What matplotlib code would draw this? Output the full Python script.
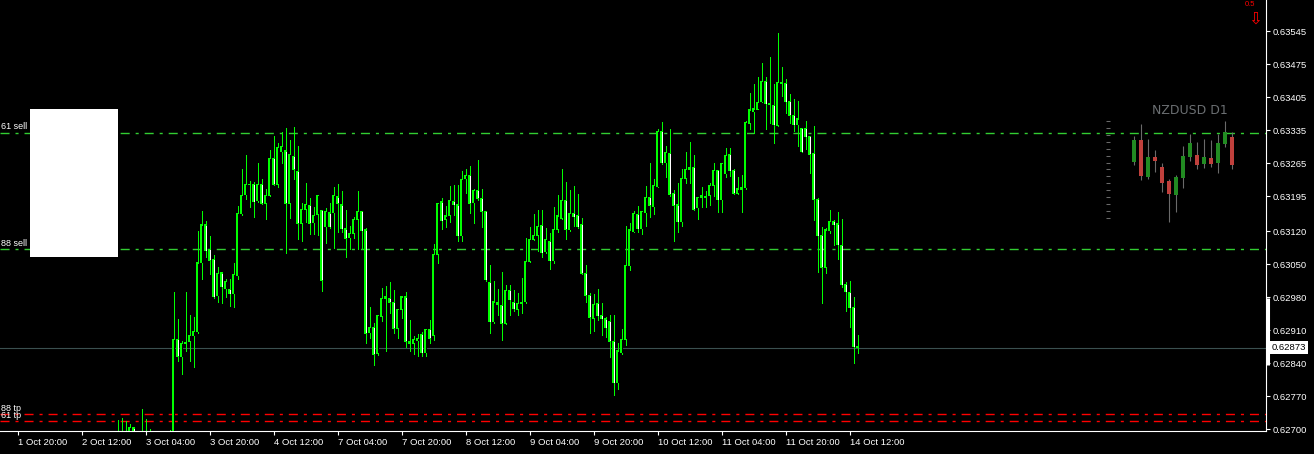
import matplotlib
matplotlib.use("Agg")
import matplotlib.pyplot as plt
import numpy as np
from matplotlib.patches import Rectangle

# NZDUSD H1 bars, prices in points (1e-5). first bar = 25 hours after 1 Oct 20:00
first_bar = 25
opens = [62670, 62680, 62672, 62684, 62703, 62688, 62676, 62670, 62662, 62668, 62660, 62655, 62662, 62668, 62675,
         62891, 62854, 62882, 62886, 62898, 62907, 63053, 63134, 63082, 63061, 62983, 63032, 62998, 62997, 62987,
         63026, 63157, 63198, 63220, 63220, 63185, 63220, 63180, 63197, 63275, 63220, 63289, 63291, 63180, 63280,
         63248, 63137, 63167, 63175, 63138, 63156, 63165, 63130, 63160, 63160, 63194, 63177, 63126, 63106, 63116,
         63146, 63163, 63123, 62905, 62916, 62861, 62940, 62977, 62978, 62969, 62914, 62954, 62981, 62886, 62882,
         62888, 62901, 62862, 62912, 62899, 63071, 63183, 63146, 63154, 63184, 63177, 63111, 63232, 63239, 63181,
         63207, 63190, 63163, 63012, 62928, 62969, 62963, 62925, 62995, 62969, 62954, 62966, 62970, 63056, 63103,
         63112, 63133, 63077, 63099, 63058, 63124, 63148, 63186, 63123, 63158, 63154, 63135, 63031, 62984, 62935,
         62967, 62942, 62934, 62929, 62886, 62798, 62862, 62891, 63047, 63119, 63156, 63126, 63160, 63192, 63172,
         63215, 63333, 63266, 63286, 63201, 63177, 63140, 63233, 63252, 63256, 63170, 63192, 63192, 63197, 63218,
         63250, 63187, 63242, 63284, 63250, 63201, 63209, 63213, 63350, 63374, 63380, 63395, 63439, 63392, 63388,
         63346, 63437, 63435, 63397, 63367, 63347, 63339, 63339, 63322, 63286, 63188, 63112, 63044, 63121, 63141,
         63136, 63090, 63008, 62991, 62959, 62876]
highs = [62719, 62723, 62717, 62711, 62705, 62693, 62743, 62722, 62699, 62685, 62680, 62675, 62685, 62698, 62991,
         62934, 62887, 62991, 62942, 62938, 63121, 63163, 63142, 63110, 63070, 63044, 63034, 63019, 63019, 63053,
         63174, 63252, 63282, 63227, 63225, 63265, 63231, 63210, 63293, 63323, 63307, 63332, 63340, 63314, 63342,
         63301, 63180, 63223, 63191, 63172, 63198, 63166, 63169, 63180, 63214, 63220, 63206, 63165, 63131, 63151,
         63206, 63164, 63128, 62960, 62925, 62943, 62999, 63004, 63012, 62995, 62956, 62983, 62991, 62932, 62898,
         62902, 62907, 62913, 62932, 63093, 63181, 63191, 63174, 63216, 63218, 63218, 63248, 63252, 63259, 63211,
         63272, 63211, 63164, 63048, 63014, 62997, 63034, 63006, 63006, 62995, 62988, 63021, 63105, 63129, 63157,
         63165, 63165, 63127, 63116, 63172, 63197, 63252, 63225, 63208, 63216, 63199, 63148, 63048, 62988, 62987,
         62997, 62967, 62937, 62942, 62942, 62882, 62912, 63131, 63137, 63163, 63174, 63164, 63216, 63265, 63231,
         63337, 63352, 63301, 63337, 63208, 63222, 63252, 63289, 63310, 63282, 63193, 63214, 63206, 63222, 63265,
         63251, 63266, 63298, 63298, 63253, 63236, 63240, 63355, 63415, 63433, 63447, 63478, 63447, 63491, 63433,
         63541, 63470, 63443, 63412, 63401, 63397, 63340, 63355, 63323, 63344, 63190, 63129, 63127, 63165, 63144,
         63162, 63146, 63013, 63014, 62981, 62900]
lows = [62655, 62660, 62662, 62675, 62678, 62665, 62655, 62650, 62648, 62645, 62640, 62645, 62650, 62655, 62660,
        62845, 62817, 62866, 62845, 62832, 62905, 63019, 63066, 63029, 62979, 62970, 62968, 62980, 62962, 62960,
        63019, 63155, 63189, 63172, 63151, 63183, 63178, 63147, 63195, 63218, 63214, 63266, 63073, 63149, 63231,
        63104, 63100, 63140, 63115, 63115, 63112, 62994, 63096, 63128, 63084, 63119, 63119, 63066, 63082, 63105,
        63082, 63082, 62882, 62893, 62835, 62857, 62930, 62866, 62946, 62903, 62894, 62935, 62875, 62866, 62859,
        62855, 62855, 62855, 62882, 62889, 63053, 63126, 63129, 63140, 63155, 63100, 63100, 63202, 63160, 63138,
        63187, 63130, 63015, 62905, 62926, 62942, 62889, 62924, 62942, 62951, 62943, 62946, 62968, 63054, 63102,
        63079, 63066, 63075, 63041, 63052, 63119, 63146, 63104, 63121, 63131, 63128, 63029, 62970, 62903, 62909,
        62932, 62899, 62895, 62854, 62772, 62786, 62860, 62878, 63038, 63118, 63119, 63114, 63132, 63150, 63157,
        63214, 63263, 63236, 63196, 63100, 63119, 63132, 63222, 63222, 63165, 63147, 63172, 63172, 63175, 63196,
        63162, 63162, 63236, 63238, 63199, 63200, 63162, 63211, 63337, 63328, 63379, 63394, 63338, 63350, 63308,
        63344, 63408, 63371, 63351, 63334, 63302, 63288, 63295, 63245, 63144, 63034, 62968, 63031, 63116, 63091,
        63062, 63002, 62951, 62917, 62840, 62861]
closes = [62680, 62672, 62684, 62704, 62688, 62676, 62670, 62662, 62668, 62660, 62655, 62662, 62668, 62675, 62891,
          62855, 62882, 62883, 62899, 62908, 63053, 63134, 63079, 63059, 62981, 63031, 63002, 63014, 62987, 63029,
          63158, 63197, 63220, 63219, 63183, 63220, 63180, 63197, 63275, 63220, 63299, 63301, 63180, 63284, 63252,
          63137, 63167, 63178, 63137, 63154, 63197, 63016, 63163, 63130, 63197, 63180, 63126, 63105, 63116, 63146,
          63163, 63121, 62903, 62916, 62859, 62942, 62978, 62981, 62969, 62914, 62954, 62981, 62886, 62882, 62891,
          62893, 62862, 62912, 62893, 63071, 63180, 63143, 63153, 63186, 63177, 63111, 63231, 63239, 63180, 63207,
          63190, 63163, 63017, 62928, 62970, 62965, 62925, 62995, 62975, 62956, 62967, 62969, 63056, 63103, 63112,
          63131, 63075, 63103, 63058, 63124, 63153, 63186, 63124, 63158, 63151, 63130, 63031, 62984, 62937, 62965,
          62941, 62934, 62915, 62886, 62798, 62866, 62891, 63048, 63123, 63158, 63126, 63163, 63192, 63175, 63218,
          63333, 63266, 63288, 63199, 63176, 63140, 63233, 63252, 63256, 63167, 63192, 63197, 63195, 63218, 63250,
          63187, 63265, 63282, 63249, 63201, 63211, 63213, 63352, 63378, 63381, 63394, 63439, 63391, 63389, 63347,
          63437, 63435, 63395, 63367, 63347, 63359, 63289, 63321, 63284, 63188, 63111, 63044, 63123, 63141, 63134,
          63092, 63007, 62992, 62958, 62875, 62873]

time_labels = ["1 Oct 20:00", "2 Oct 12:00", "3 Oct 04:00", "3 Oct 20:00", "4 Oct 12:00", "7 Oct 04:00",
               "7 Oct 20:00", "8 Oct 12:00", "9 Oct 04:00", "9 Oct 20:00", "10 Oct 12:00", "11 Oct 04:00",
               "11 Oct 20:00", "14 Oct 12:00"]
price_ticks = [0.63545, 0.63475, 0.63405, 0.63335, 0.63265, 0.63195, 0.63120,
               0.63050, 0.62980, 0.62910, 0.62840, 0.62770, 0.62700]

level_names = ["61 sell", "88 sell", "88 tp", "61 tp"]
level_prices = [0.63330, 0.63082, 0.62731, 0.62717]
current_price = 0.62873
range_marker = [0.62978, 0.62836]

# daily mini chart (D1)
d1_open = [63268, 63314, 63236, 63279, 63257, 63226, 63198, 63234, 63279, 63282, 63263, 63276, 63266, 63306, 63321]
d1_high = [63323, 63348, 63316, 63293, 63265, 63231, 63240, 63302, 63327, 63310, 63316, 63314, 63327, 63355, 63331]
d1_low = [63260, 63229, 63232, 63247, 63204, 63140, 63161, 63213, 63270, 63253, 63255, 63257, 63245, 63300, 63253]
d1_close = [63314, 63238, 63279, 63270, 63223, 63200, 63236, 63281, 63307, 63262, 63277, 63263, 63307, 63331, 63262]

plt.rcParams['font.family'] = ['Liberation Sans', 'DejaVu Sans']
plt.rcParams['lines.scale_dashes'] = False

o = np.array(opens) / 1e5
h = np.array(highs) / 1e5
l = np.array(lows) / 1e5
c = np.array(closes) / 1e5
x = first_bar + np.arange(len(o))

fig = plt.figure(figsize=(13.14, 4.54), dpi=100, facecolor='black')
ax = fig.add_axes([0, 23 / 454, 1266 / 1314, 431 / 454])
ax.set_facecolor('black')
ax.set_xlim(-4.375, 312.125)
ax.set_ylim(0.6269575, 0.6361163)

lime = '#00ff00'
dashdot = (6.5, 4.3, 2.2, 4.3)
px = (0.6361163 - 0.6269575) / 431  # one pixel in price

# level lines
for name, p in zip(level_names, level_prices):
    col = '#32cd32' if 'sell' in name else '#ff0000'
    ax.axhline(p, color=col, lw=1.0, dashes=dashdot, zorder=1)
    ax.annotate(name, xy=(0, p), xycoords=ax.get_yaxis_transform(), xytext=(0.5, 1.0),
                textcoords='offset points', color='white', fontsize=6.5, va='bottom', ha='left')
ax.axhline(current_price, color='#3b5050', lw=0.8, zorder=1)

# candles: lime wick + lime 3px body, inner column black (bull) or white (bear)
up = c >= o
top = np.maximum(o, c)
bot = np.minimum(o, c)
ax.vlines(x, l, h, color=lime, lw=0.72, antialiased=False, zorder=2)
ax.bar(x, top - bot + px, bottom=bot - px / 2, width=0.72, color=lime, edgecolor='none',
       antialiased=False, zorder=3)
inner = (top - bot) > 2 * px
ax.vlines(x[inner], bot[inner] + px, top[inner] - px, color=np.where(up[inner], 'black', 'white'),
          lw=0.72, antialiased=False, zorder=4)

# D1 mini chart
mo = np.array(d1_open) / 1e5
mh = np.array(d1_high) / 1e5
ml = np.array(d1_low) / 1e5
mc = np.array(d1_close) / 1e5
mx = 279.1 + 1.75 * np.arange(len(mo))
mup = mc >= mo
ax.vlines(mx, ml, mh, color='#6a6a6a', lw=0.8, zorder=2)
ax.bar(mx, mc - mo, bottom=mo, width=1.17, color=np.where(mup, '#228b22', '#c0403c'),
       edgecolor='none', zorder=3)
ruler = np.linspace(0.63355, 0.63148, 15)
ax.hlines(ruler, 272.0, 273.0, color='#6a6a6a', lw=0.75)
ax.text(293.0, 0.63376, 'NZDUSD D1', color='#6b6f72', fontsize=9, ha='center', va='center',
        family=['DejaVu Sans'])

# axes styling
for s in ['left', 'top']:
    ax.spines[s].set_visible(False)
for s in ['right', 'bottom']:
    ax.spines[s].set_color('white')
    ax.spines[s].set_linewidth(0.8)
ax.yaxis.tick_right()
ax.set_yticks(price_ticks)
ax.set_yticklabels(['%.5f' % p for p in price_ticks])
ax.set_xticks(np.arange(len(time_labels)) * 16)
ax.set_xticklabels(time_labels, ha='left')
ax.tick_params(colors='white', labelsize=6.8, length=3, width=0.8, direction='out', pad=2)

ytr = ax.get_yaxis_transform()
ax.plot([1.0012, 1.0012], range_marker, transform=ytr, color='white', lw=2.2,
        solid_capstyle='butt', clip_on=False)
ax.text(1.0045, current_price, '%.5f' % current_price, transform=ytr, color='black', fontsize=6.8,
        va='center', ha='left', clip_on=False,
        bbox=dict(facecolor='white', edgecolor='none', pad=1.6))

# white box over the left labels
fig.add_artist(Rectangle((30 / 1314, (454 - 257) / 454), 88 / 1314, 148 / 454,
                         facecolor='white', edgecolor='none', transform=fig.transFigure, zorder=5))

# signal marks top right
fig.text(1250 / 1314, 1 - 0.5 / 454, '0.5', color='red', fontsize=5.5, ha='center', va='top')
fig.text(1255 / 1314, 1 - 19 / 454, '\u21e9', color='red', fontsize=12, ha='center', va='center',
         family=['DejaVu Sans'])

fig.savefig('out.png', dpi=100, facecolor='black')
